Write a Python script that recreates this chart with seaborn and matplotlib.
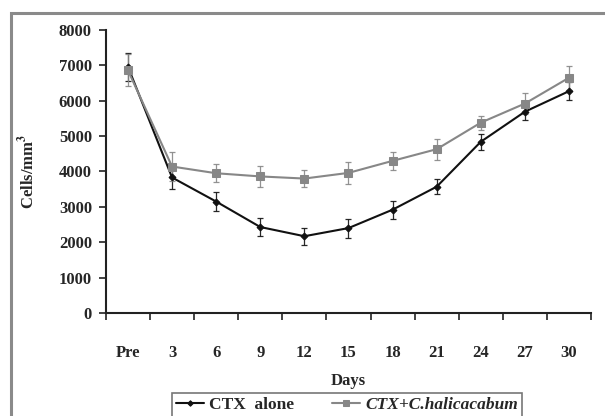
import numpy as np
import pandas as pd
import matplotlib.pyplot as plt
import seaborn as sns
from matplotlib.patches import Rectangle

# Values
days = ["Pre", "3", "6", "9", "12", "15", "18", "21", "24", "27", "30"]
ctx_alone = [6960, 3830, 3150, 2430, 2170, 2400, 2920, 3570, 4840, 5690, 6270]
ctx_alone_err = [400, 320, 270, 250, 245, 270, 250, 220, 230, 235, 260]
ctx_herb = [6860, 4140, 3950, 3860, 3800, 3960, 4300, 4630, 5380, 5920, 6650]
ctx_herb_err = [450, 400, 260, 290, 245, 300, 250, 300, 200, 300, 340]
series_names = ["CTX  alone", "CTX+C.halicacabum"]

pos = np.arange(len(days))
df = pd.concat([
    pd.DataFrame({"pos": pos, "cells": ctx_alone, "err": ctx_alone_err, "group": series_names[0]}),
    pd.DataFrame({"pos": pos, "cells": ctx_herb, "err": ctx_herb_err, "group": series_names[1]}),
])

sns.set_theme(style="ticks")
plt.rcParams["font.family"] = ["Liberation Serif", "DejaVu Serif"]
plt.rcParams["font.weight"] = "bold"
plt.rcParams["mathtext.fontset"] = "stix"

fig = plt.figure(figsize=(6.05, 4.16), dpi=100)
ax = fig.add_axes([0.175, 0.2476, 0.802, 0.6804])

# outer frame (only top and left edges visible in the original)
fig.patches.append(Rectangle((11 / 605, -0.1), 1.2, 1 - 13 / 416 + 0.1,
                             transform=fig.transFigure, fill=False,
                             edgecolor="#8a8a8a", linewidth=2.2, zorder=0))

palette = {series_names[0]: "#111111", series_names[1]: "#878787"}
markers = {series_names[0]: "D", series_names[1]: "s"}
sizes = {series_names[0]: 3.5, series_names[1]: 5.5}

# error bars first, lines on top
for name, sub in df.groupby("group", sort=False):
    ax.errorbar(sub["pos"], sub["cells"], yerr=sub["err"], fmt="none",
                ecolor=palette[name], elinewidth=0.9, capsize=2, capthick=0.9,
                alpha=0.9, zorder=2)

for name, sub in df.groupby("group", sort=False):
    sns.lineplot(data=sub, x="pos", y="cells", ax=ax, color=palette[name],
                 marker=markers[name], markersize=sizes[name],
                 markeredgecolor=palette[name], linewidth=1.5,
                 label=name, zorder=3)

ax.set_xlim(-0.5, len(days) - 0.5)
ax.set_ylim(0, 8000)
ax.set_yticks(np.arange(0, 8001, 1000))
ax.set_xticks(np.arange(-0.5, len(days), 1.0))
ax.set_xticklabels([])
ax.set_xticks(pos, minor=True)
ax.set_xticklabels(days, minor=True)
ax.tick_params(axis="x", which="minor", length=0, pad=23, labelsize=12)
ax.tick_params(axis="x", which="major", length=5, width=1.2, direction="out", color="#222222")
ax.tick_params(axis="y", length=5, width=1.2, direction="out", color="#222222", labelsize=12, pad=5)
for lab in ax.get_xticklabels(minor=True) + ax.get_yticklabels():
    lab.set_fontweight("bold")

ax.set_xlabel("Days", fontsize=12, fontweight="bold", labelpad=9)
ax.set_ylabel("Cells/mm$^{\\mathbf{3}}$", fontsize=12, fontweight="bold")
ax.yaxis.set_label_coords(-0.14, 0.5)

sns.despine(ax=ax)
for s in ["left", "bottom"]:
    ax.spines[s].set_linewidth(1.5)
    ax.spines[s].set_color("#222222")

leg = ax.legend(loc="center", bbox_to_anchor=(347 / 605, 1 - 405 / 416),
                bbox_transform=fig.transFigure, ncol=2, frameon=True,
                fancybox=False, edgecolor="#555555", fontsize=12.5,
                handlelength=1.6, handletextpad=0.3, columnspacing=2.2,
                borderpad=0.25, borderaxespad=0, markerscale=0.8)
leg.get_frame().set_linewidth(1.2)
for t in leg.get_texts():
    t.set_fontweight("bold")
leg.get_texts()[1].set_fontstyle("italic")

fig.savefig("out.png", dpi=100)
